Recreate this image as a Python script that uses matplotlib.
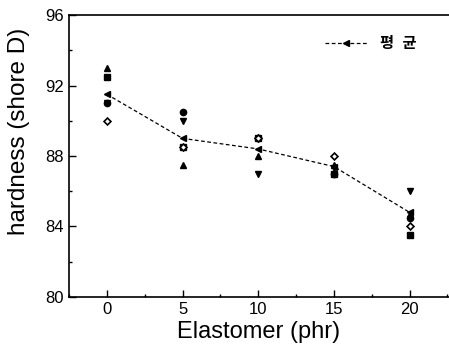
import numpy as np
import matplotlib.pyplot as plt
from matplotlib.ticker import MultipleLocator

plt.rcParams['font.family'] = ['Liberation Sans', 'Noto Sans CJK KR', 'DejaVu Sans']

phr = [0, 5, 10, 15, 20]
sq = [92.5, 88.5, 89.0, 87.0, 83.5]
circ = [91.0, 90.5, 89.0, 87.0, 84.5]
up = [93.0, 87.5, 88.0, 87.5, 84.7]
down = [91.0, 90.0, 87.0, 87.3, 86.0]
diam = [90.0, 88.5, 89.0, 88.0, 84.0]
mean = [91.5, 89.0, 88.4, 87.4, 84.8]

fig = plt.figure(figsize=(4.49, 3.55), dpi=100)
ax = fig.add_axes([0.1537, 0.1634, 0.8463, 0.7943])

ms = 4.5
ax.plot(phr, sq, 's', color='black', ms=ms - 0.5, ls='none')
ax.plot(phr, circ, 'o', color='black', ms=ms, ls='none')
ax.plot(phr, up, '^', color='black', ms=ms, ls='none')
ax.plot(phr, down, 'v', color='black', ms=ms, ls='none')
ax.plot(phr, diam, 'D', color='black', ms=ms - 1, ls='none', mfc='white', mew=1.2)
ax.plot(phr, mean, '<', color='black', ms=ms + 0.5, ls=(0, (3, 2)), lw=0.9, label='평  균')

ax.set_xlim(-2.5, 22.6)
ax.set_ylim(80, 96)
ax.set_xticks(phr)
ax.set_yticks([80, 84, 88, 92, 96])
ax.xaxis.set_minor_locator(MultipleLocator(2.5))
ax.yaxis.set_minor_locator(MultipleLocator(2))
ax.tick_params(which='both', direction='in', labelsize=12, width=1)
ax.tick_params(which='major', length=5)
ax.tick_params(which='minor', length=2.5)
ax.tick_params(top=False, right=False, which='both')
ax.spines['right'].set_visible(False)
for s in ['left', 'bottom', 'top']:
    ax.spines[s].set_linewidth(1.2)

ax.set_xlabel('Elastomer (phr)', fontsize=17, labelpad=3)
ax.set_ylabel('hardness (shore D)', fontsize=17.5)
ax.yaxis.set_label_coords(-0.103, 0.589)

leg = ax.legend(loc='upper right', frameon=False, handlelength=2.8,
                bbox_to_anchor=(0.95, 0.97), prop={'size': 11, 'weight': 'bold'})

fig.savefig('out.png', dpi=100)
